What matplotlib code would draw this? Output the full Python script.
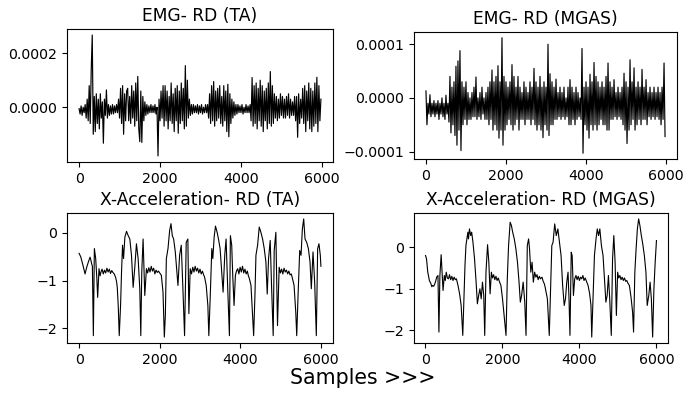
import numpy as np
import matplotlib
matplotlib.use('Agg')
import matplotlib.pyplot as plt

# EMG values in units of 1e-5, one value every 25 samples
EMG_STEP = 25
emg_ta = [
    -0.5, -2.5, 0.5, -3, 0, -2, 1, -4, 3, -5, 8, -6,
    14, 26.7, -10, 4, -9, 5, -6, 3, -8, 5, -4, 2,
    -13.3, 3, -3, 6.4, -4, 1, -3, 0.5, -2.5, 1, -2.5, 0.5,
    -2, 1, -2, 3, -4, 7, -6, 8, -10, 5, -5, 6,
    7, -5, 4, -6, 8, -4, 6, -7, 9, -5, 11.4, -8,
    -12.7, 6, -13, 4, -5, 2, -3, 1, -2.5, 0.5, -2, 1,
    -2, 0.5, -2, 1, -2.5, 0, -18, 3, -5, 6, -4, 8,
    -7, 8, -5, 6, -8, 4, -5, 9, -6, 5, -9, 7,
    -5, 8, -9.6, 6, -6, 9, -5, 7, -8, 15.4, -7, 10,
    -4, 3, -3, 1, -2.5, 1, -2, 0.5, -2, 1, -2.5, 0.5,
    -2, 1, -2.5, 0, -2, 1, -2, 1, -4, 5, -6, 8,
    -5, 9.5, -7, 6, -5, 7, -4, 8, -6, 4, -7, 8,
    -5, 6, -9, 8.5, -10.9, 5, -6, 3, -4, 2, -3, 1,
    -2.5, 1, -2, 0.5, -2, 1, -2.5, 0, -2, 1, -2, 0.5,
    -2, 1, -5, 11, -7, 8, -6, 9, -8, 7, -5, 10,
    -7, 8, -9, 6, -5, 7, -8, 9, -6, 13.2, -7, 8,
    -6, 5, -4, 4, -5, 3, -4, 5, -3, 4, -4, 3,
    -4, 4, -3, 5, -4, 3, -3, 2, -3, 4, -5, 4,
    -11.1, 5, -6, 3, -4, 7, -6, 8, -9, 6, -5, 9,
    -8, 7, -9, 6, -7, 9, -6, 11.1, -9, 8, -5, 3,
]
emg_mgas = [
    1.3, -5, -1, -3, 0.6, -3.5, -1, -3, -0.5, -3.5, -1, -3,
    -0.5, -4, -1, -3, 0, -3.5, -1, -4, 0.5, -3, -1, -4.5,
    4, -6.5, 2, -5, 3, -7, 5.9, -8.8, 6.9, -6, 8.8, -9.8,
    3, -5, 2, -4, 3, -5, 1, -4, 0, -4, 1, -3.5,
    2, -3.5, 3.9, -4, 0, -3.5, 1, -4, 2, -3, 0, -4,
    1, -4, 2, -5, 3, -4, 5.2, -6, 3, -5, 4, -6,
    6, -7.5, 3, -6, 11.2, -8.8, 4, -6, 3, -5, 2, -4,
    3, -5, 6.2, -6, 4, -5, 2, -4, 4, -6, 2, -4,
    1, -4, 3, -5, 2, -4, 1, -4, 3, -5, 2, -4,
    5.5, -5, 3, -6, 2, -5, 4, -6, 2, -7.4, 3, -5,
    2, -6, 10, -7, 4.5, -5, 3, -5, 2, -4, 3.5, -4,
    1, -3.5, 2, -4, 1, -3.5, 2, -4, 0, -3.5, 2, -5,
    3.4, -5, 2, -4, 1, -5, 2, -4, 1, -3.5, 0, -4,
    9.2, -10.3, 2, -5, 3, -6, 2, -7.5, 4.4, -5, 3, -6,
    6.6, -5, 4, -6, 3, -5, 2, -4, 3, -5, 2, -5,
    4, -6, 6.5, -6, 3, -4, 2, -4, 3.4, -3.5, 1, -4,
    2, -3.5, 1, -4, 2, -5, 4.6, -6, 3, -8.5, 2, -6,
    7.1, -5, 3, -4, 5.6, -6, 2, -5, 3, -4, 2, -5,
    5.3, -4, 2, -4, 3.4, -5, 1, -3.5, 2, -4, 1, -3.5,
    2, -4, 1, -3.5, 2, -4, 1, -5, 2, -4, 6.5, -7.2,
]

# X-acceleration, read as (sample, value) points
acc_ta_x = [
    0, 40, 66, 90, 107, 130, 148, 170, 189, 210, 230, 250, 272, 295, 313, 330,
    354, 379, 412, 440, 461, 494, 520, 543, 570, 600, 630, 660, 690, 720, 750,
    780, 810, 840, 872, 905, 930, 947, 971, 996, 1029, 1053, 1078, 1103, 1136,
    1160, 1177, 1200, 1218, 1259, 1300, 1341, 1382, 1423, 1465, 1506, 1531,
    1555, 1588, 1630, 1671, 1700, 1730, 1760, 1790, 1820, 1850, 1880, 1910,
    1940, 1970, 2000, 2041, 2082, 2115, 2140, 2165, 2206, 2247, 2280, 2313,
    2346, 2387, 2428, 2453, 2494, 2535, 2576, 2617, 2658, 2699, 2724, 2757,
    2790, 2820, 2850, 2880, 2910, 2940, 2970, 3000, 3030, 3060, 3090, 3112,
    3154, 3195, 3219, 3252, 3293, 3318, 3351, 3384, 3425, 3458, 3499, 3540,
    3573, 3614, 3647, 3688, 3730, 3754, 3787, 3812, 3845, 3878, 3905, 3935,
    3965, 3995, 4025, 4055, 4085, 4115, 4145, 4175, 4200, 4223, 4265, 4306,
    4331, 4363, 4388, 4429, 4470, 4511, 4553, 4594, 4635, 4668, 4701, 4742,
    4775, 4816, 4841, 4882, 4923, 4964, 4995, 5025, 5055, 5085, 5115, 5145,
    5175, 5205, 5235, 5265, 5293, 5334, 5376, 5400, 5433, 5474, 5507, 5540,
    5573, 5606, 5647, 5689, 5730, 5762, 5804, 5845, 5886, 5919, 5952, 5985, 6000,
]
acc_ta_y = [
    -0.43, -0.50, -0.58, -0.66, -0.72, -0.80, -0.86, -0.78, -0.72, -0.66, -0.61,
    -0.56, -0.51, -0.58, -0.65, -0.70, -2.15, -0.33, -0.54, -0.95, -1.35, -0.75,
    -0.90, -0.82, -0.76, -0.86, -0.78, -0.84, -0.74, -0.82, -0.76, -0.85, -0.79,
    -0.83, -0.86, -0.93, -1.02, -1.14, -1.52, -2.15, -1.52, -0.82, -0.26, -0.54,
    -0.09, -0.02, 0.03, -0.02, -0.06, -0.13, -0.47, -1.14, -0.72, -0.23, -0.54,
    -1.17, -2.15, -0.82, -0.13, -1.31, -0.75, -0.84, -0.73, -0.82, -0.70, -0.80,
    -0.74, -0.86, -0.78, -0.83, -0.80, -0.84, -0.89, -1.24, -2.18, -1.73, -0.54,
    -0.33, 0.05, 0.19, -0.06, -0.13, -0.40, -0.82, -1.10, -0.47, -0.26, -1.17,
    -2.15, -0.20, -0.13, -1.69, -0.75, -0.86, -0.72, -0.82, -0.70, -0.80, -0.74,
    -0.84, -0.76, -0.86, -0.80, -0.88, -0.92, -1.10, -1.52, -2.15, -1.38, -0.33,
    -0.54, -0.09, 0.14, 0.01, -0.13, -0.33, -0.82, -1.24, -0.47, -0.13, -1.17,
    -2.15, -0.06, -0.26, -0.89, -1.52, -0.89, -0.80, -0.75, -0.86, -0.72, -0.82,
    -0.70, -0.84, -0.76, -0.86, -0.80, -0.90, -0.95, -1.10, -1.73, -2.15, -1.31,
    -0.47, -0.26, 0.12, 0.01, -0.13, -0.33, -0.61, -1.28, -0.54, -0.16, -1.10,
    -2.15, -0.37, 0.01, -1.94, -0.72, -0.84, -0.76, -0.86, -0.74, -0.82, -0.78,
    -0.86, -0.80, -0.88, -0.86, -0.95, -1.10, -1.66, -2.15, -1.31, -0.37, -0.47,
    0.08, 0.29, -0.13, -0.20, -0.33, -0.61, -1.17, -0.40, -1.03, -2.15, -0.33,
    -0.23, -0.47, -0.70,
]
acc_mgas_x = [
    8, 33, 66, 107, 149, 170, 190, 220, 248, 270, 297, 330, 355, 380, 413, 437,
    462, 495, 520, 545, 575, 602, 630, 660, 690, 720, 750, 780, 809, 850, 891,
    932, 974, 998, 1031, 1056, 1081, 1106, 1122, 1147, 1180, 1205, 1238, 1279,
    1320, 1353, 1386, 1419, 1452, 1485, 1518, 1543, 1576, 1617, 1650, 1683,
    1716, 1745, 1775, 1805, 1835, 1865, 1895, 1922, 1964, 2005, 2046, 2096,
    2129, 2162, 2203, 2236, 2269, 2310, 2352, 2393, 2434, 2467, 2500, 2541,
    2582, 2615, 2648, 2682, 2706, 2739, 2772, 2805, 2838, 2871, 2900, 2930,
    2960, 2990, 3029, 3060, 3090, 3111, 3169, 3218, 3251, 3284, 3317, 3359,
    3400, 3441, 3482, 3524, 3565, 3606, 3639, 3672, 3705, 3730, 3755, 3788,
    3812, 3845, 3878, 3911, 3940, 3970, 4000, 4030, 4060, 4090, 4120, 4150,
    4184, 4225, 4266, 4300, 4320, 4348, 4390, 4431, 4464, 4497, 4530, 4571,
    4613, 4654, 4687, 4720, 4753, 4786, 4827, 4860, 4893, 4926, 4959, 4992,
    5020, 5050, 5080, 5110, 5140, 5170, 5200, 5230, 5256, 5297, 5339, 5380,
    5405, 5438, 5471, 5504, 5537, 5570, 5603, 5640, 5685, 5726, 5759, 5800,
    5834, 5867, 5900, 5933, 5966, 5999,
]
acc_mgas_y = [
    -0.20, -0.28, -0.60, -0.80, -0.88, -0.95, -0.92, -0.94, -0.88, -0.82, -0.72,
    -0.68, -2.04, -0.68, -0.18, -0.60, -1.04, -0.68, -0.80, -0.60, -0.74, -0.76,
    -0.66, -0.78, -0.70, -0.80, -0.72, -0.78, -0.76, -0.92, -1.12, -1.40, -2.12,
    -1.40, -0.44, 0.04, 0.20, 0.36, 0.20, 0.44, 0.28, 0.36, 0.12, -0.28, -0.84,
    -1.36, -1.16, -1.00, -1.24, -0.84, -1.16, -2.12, -0.60, 0.06, -0.36, -1.12,
    -0.60, -0.74, -0.66, -0.78, -0.70, -0.80, -0.74, -0.82, -0.92, -1.24, -1.64,
    -2.12, -0.76, 0.04, 0.60, 0.52, 0.36, 0.20, -0.04, -0.36, -0.84, -1.32,
    -1.16, -0.84, -1.32, -2.12, 0.04, 0.20, -0.04, -0.60, -0.36, -0.84, -0.60,
    -0.72, -0.66, -0.78, -0.70, -0.76, -0.72, -0.82, -0.88, -0.96, -1.24, -2.12,
    -1.00, 0.04, 0.12, 0.56, 0.28, 0.44, 0.12, -0.20, -0.92, -1.40, -1.24,
    -0.84, -0.60, -1.24, -2.12, -0.12, -0.20, -1.16, -0.76, -0.68, -0.78, -0.70,
    -0.80, -0.72, -0.76, -0.68, -0.80, -0.74, -0.82, -0.92, -1.12, -1.40, -2.16,
    -1.40, -0.20, 0.20, 0.44, 0.28, 0.44, 0.04, -0.20, -0.84, -1.32, -1.16,
    -0.68, -1.24, -2.12, -0.28, 0.28, -0.36, -1.64, -0.60, -0.74, -0.68, -0.78,
    -0.72, -0.80, -0.74, -0.82, -0.80, -0.86, -0.92, -1.20, -1.56, -2.04, -0.60,
    -0.04, 0.44, 0.68, 0.52, 0.30, 0.10, -0.20, -0.60, -1.40, -1.16, -0.84,
    -1.24, -2.16, -1.00, -0.36, 0.16,
]

W, H = 689, 396


def px_axes(fig, left, top, right, bottom):
    # axes from pixel box of the reference
    return fig.add_axes([left / W, 1 - bottom / H, (right - left) / W, (bottom - top) / H])


fig = plt.figure(figsize=(W / 100, H / 100), dpi=100)

ax1 = px_axes(fig, 67, 29, 333, 162)
ax2 = px_axes(fig, 414, 32, 677, 159)
ax3 = px_axes(fig, 67, 213, 333, 343)
ax4 = px_axes(fig, 414, 213, 668, 343)

emg_x_ta = np.arange(len(emg_ta)) * EMG_STEP
emg_x_mgas = np.arange(len(emg_mgas)) * EMG_STEP

ax1.plot(emg_x_ta, np.array(emg_ta) * 1e-5, color='black', lw=0.85)
ax1.set_title('EMG- RD (TA)', fontsize=12.3)
ax1.set_yticks([0, 0.0002])
ax1.yaxis.set_major_formatter(plt.FormatStrFormatter('%.4f'))

ax2.plot(emg_x_mgas, np.array(emg_mgas) * 1e-5, color='black', lw=0.85)
ax2.set_title('EMG- RD (MGAS)', fontsize=12.3)
ax2.set_yticks([-0.0001, 0, 0.0001])
ax2.yaxis.set_major_formatter(plt.FuncFormatter(lambda v, p: f'{v:.4f}'.replace('-', '\u2212')))

ax3.plot(acc_ta_x, acc_ta_y, color='black', lw=0.8)
ax3.set_title('X-Acceleration- RD (TA)', fontsize=12.3)
ax3.set_yticks([-2, -1, 0])

ax4.plot(acc_mgas_x, acc_mgas_y, color='black', lw=0.8)
ax4.set_title('X-Acceleration- RD (MGAS)', fontsize=12.3)
ax4.set_yticks([-2, -1, 0])

for ax in (ax1, ax2, ax3, ax4):
    ax.set_xticks([0, 2000, 4000, 6000])
    ax.tick_params(labelsize=10.2)

fig.text(363 / W, 1 - 378 / H, 'Samples >>>', fontsize=14.8, ha='center', va='center')

fig.savefig('out.png', dpi=100)
